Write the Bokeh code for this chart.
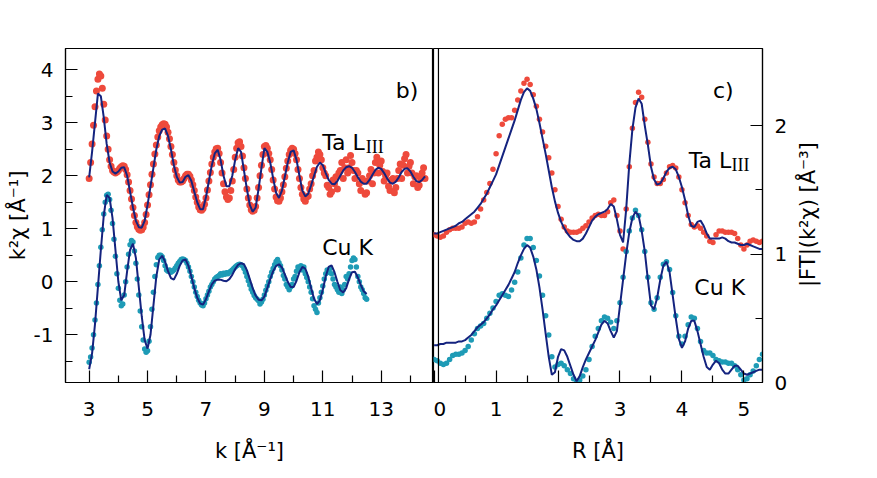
import numpy as np
from bokeh.plotting import figure
from bokeh.layouts import row
from bokeh.models import FixedTicker, Range1d, Label, Span
from bokeh.embed import file_html
from bokeh.resources import INLINE

# ---------------- data: k-space (panel b) ----------------
K_START = 3.0
TA_FIT_K_STEP = 0.1
ta_chi_fit = [
    1.97, 2.45, 3.00, 3.55, 3.50, 3.10, 2.60, 2.25, 2.08, 2.04,
    2.08, 2.15, 2.16, 2.00, 1.70, 1.40, 1.15, 1.03, 1.02, 1.15,
    1.45, 1.80, 2.15, 2.50, 2.75, 2.87, 2.89, 2.75, 2.50, 2.20,
    1.98, 1.87, 1.88, 1.98, 2.01, 1.90, 1.70, 1.50, 1.37, 1.37,
    1.60, 1.90, 2.20, 2.42, 2.49, 2.30, 2.00, 1.80, 1.80, 2.00,
    2.30, 2.52, 2.45, 2.10, 1.75, 1.45, 1.32, 1.40, 1.75, 2.15,
    2.52, 2.45, 2.25, 1.95, 1.68, 1.58, 1.72, 1.98, 2.25, 2.45,
    2.48, 2.30, 2.00, 1.72, 1.61, 1.66, 1.82, 2.00, 2.17, 2.25,
    2.20, 2.05, 1.92, 1.85, 1.84, 1.90, 2.00, 2.10, 2.16, 2.18,
    2.15, 2.07, 1.97, 1.89, 1.85, 1.85, 1.92, 2.02, 2.11, 2.15,
    2.13, 2.05, 1.95, 1.87, 1.85, 1.89, 1.97, 2.07, 2.13, 2.14,
    2.08, 1.98, 1.90, 1.88, 1.92, 1.99,
]
TA_DATA_K_STEP = 0.05
ta_chi_data = [
    1.95, 2.25, 2.60, 2.95, 3.30, 3.60, 3.82, 3.92, 3.88, 3.65,
    3.35, 3.05, 2.75, 2.50, 2.30, 2.18, 2.10, 2.07, 2.05, 2.07,
    2.10, 2.14, 2.17, 2.19, 2.18, 2.12, 2.02, 1.88, 1.72, 1.56,
    1.40, 1.25, 1.12, 1.04, 0.99, 0.97, 0.98, 1.03, 1.12, 1.27,
    1.45, 1.64, 1.83, 2.03, 2.22, 2.41, 2.58, 2.73, 2.85, 2.92,
    2.96, 2.98, 2.97, 2.92, 2.82, 2.70, 2.55, 2.40, 2.25, 2.11,
    2.00, 1.92, 1.88, 1.88, 1.90, 1.95, 2.00, 2.03, 2.03, 1.99,
    1.92, 1.83, 1.72, 1.60, 1.50, 1.41, 1.36, 1.35, 1.38, 1.46,
    1.58, 1.73, 1.90, 2.06, 2.22, 2.35, 2.45, 2.51, 2.52, 2.42,
    2.25, 2.05, 1.85, 1.70, 1.60, 1.55, 1.58, 1.72, 1.90, 2.12,
    2.35, 2.52, 2.62, 2.64, 2.55, 2.37, 2.15, 1.95, 1.75, 1.58,
    1.45, 1.36, 1.33, 1.35, 1.42, 1.58, 1.78, 2.00, 2.20, 2.40,
    2.55, 2.57, 2.52, 2.42, 2.30, 2.12, 1.92, 1.75, 1.60, 1.53,
    1.52, 1.58, 1.70, 1.83, 1.98, 2.14, 2.28, 2.40, 2.48, 2.52,
    2.50, 2.42, 2.30, 2.12, 1.95, 1.78, 1.65, 1.56, 1.52, 1.60,
    1.62, 1.75, 1.85, 2.00, 2.10, 2.28, 2.35, 2.45, 2.40, 2.30,
    2.15, 2.05, 2.00, 1.82, 1.78, 1.65, 1.70, 1.92, 1.85, 1.98,
    1.75, 2.05, 2.10, 2.25, 1.95, 2.15, 2.30, 2.05, 2.15, 2.38,
    2.25, 2.10, 1.95, 2.10, 2.05, 1.85, 1.72, 1.95, 1.90, 1.65,
    1.68, 1.90, 2.00, 2.12, 1.85, 2.05, 2.25, 2.35, 2.05, 2.20,
    2.28, 2.08, 1.90, 2.00, 2.05, 1.80, 1.72, 1.92, 1.95, 1.68,
    1.78, 1.95, 2.10, 2.22, 1.95, 2.20, 2.32, 2.40, 2.05, 2.18,
    2.25, 2.05, 1.85, 1.98, 2.00, 1.78, 1.82, 1.95, 2.05, 2.15,
    1.95,
]
CU_FIT_K_STEP = 0.1
cu_chi_fit = [
    -1.65, -1.35, -0.80, -0.10, 0.60, 1.25, 1.64, 1.58, 1.20, 0.60,
    0.00, -0.35, -0.25, 0.20, 0.60, 0.72, 0.45, -0.10, -0.65, -1.10,
    -1.26, -1.00, -0.45, 0.10, 0.42, 0.49, 0.38, 0.20, 0.07, 0.04,
    0.15, 0.30, 0.40, 0.42, 0.30, 0.10, -0.12, -0.30, -0.41, -0.43,
    -0.33, -0.18, -0.05, 0.02, 0.04, 0.04, 0.02, 0.01, 0.05, 0.13,
    0.24, 0.32, 0.35, 0.33, 0.22, 0.05, -0.12, -0.26, -0.34, -0.35,
    -0.28, -0.12, 0.05, 0.20, 0.30, 0.33, 0.27, 0.14, 0.00, -0.10,
    -0.10, 0.02, 0.18, 0.28, 0.25, 0.10, -0.12, -0.32, -0.42, -0.35,
    -0.15, 0.10, 0.28, 0.31, 0.18, 0.00, -0.16, -0.20, -0.12, 0.05,
    0.18, 0.19, 0.08, -0.06, -0.18, -0.23,
]
CU_DATA_K_STEP = 0.05
cu_chi_data = [
    -1.52, -1.42, -1.25, -1.00, -0.72, -0.40, -0.05, 0.30, 0.65, 0.98,
    1.28, 1.50, 1.63, 1.65, 1.55, 1.35, 1.10, 0.80, 0.48, 0.15,
    -0.12, -0.35, -0.45, -0.42, -0.25, 0.00, 0.28, 0.52, 0.70, 0.78,
    0.75, 0.58, 0.35, 0.05, -0.25, -0.55, -0.85, -1.10, -1.27, -1.33,
    -1.30, -1.12, -0.85, -0.52, -0.20, 0.10, 0.32, 0.46, 0.50, 0.50,
    0.47, 0.40, 0.30, 0.22, 0.20, 0.22, 0.18, 0.20, 0.22, 0.26,
    0.30, 0.35, 0.38, 0.42, 0.43, 0.42, 0.40, 0.35, 0.28, 0.20,
    0.10, 0.00, -0.10, -0.20, -0.28, -0.35, -0.40, -0.44, -0.45, -0.40,
    -0.32, -0.25, -0.18, -0.10, -0.05, 0.00, 0.05, 0.08, 0.10, 0.12,
    0.15, 0.13, 0.16, 0.14, 0.17, 0.15, 0.18, 0.20, 0.22, 0.25,
    0.28, 0.30, 0.32, 0.33, 0.32, 0.30, 0.25, 0.18, 0.10, 0.02,
    -0.06, -0.14, -0.20, -0.26, -0.30, -0.33, -0.36, -0.42, -0.38, -0.33,
    -0.25, -0.16, -0.08, 0.00, 0.10, 0.18, 0.25, 0.32, 0.38, 0.42,
    0.36, 0.30, 0.22, 0.12, 0.05, -0.05, -0.10, -0.15, -0.10, -0.05,
    0.05, 0.10, 0.20, 0.28, 0.25, 0.30, 0.22, 0.28, 0.15, 0.08,
    0.00, -0.10, -0.20, -0.32, -0.45, -0.52, -0.58, -0.40, -0.30, -0.20,
    -0.08, 0.05, 0.15, 0.22, 0.18, 0.25, 0.15, 0.05, -0.05, -0.10,
    -0.15, -0.20, -0.10, -0.22, -0.15, -0.05, 0.10, 0.05, 0.15, 0.28,
    0.40, 0.45, 0.42, 0.28, 0.10, 0.00, -0.10, -0.15, -0.22, -0.30,
    -0.33,
]

# ---------------- data: R-space (panel c) ----------------
R_START = 0.0
R_STEP = 0.05
ta_ft_data = [
    1.15, 1.14, 1.13, 1.14, 1.17, 1.19, 1.20, 1.20, 1.20, 1.21,
    1.24, 1.25, 1.24, 1.25, 1.29, 1.35, 1.42, 1.48, 1.55, 1.66,
    1.78, 1.92, 2.01, 2.05, 2.06, 2.06, 2.12, 2.20, 2.27, 2.33,
    2.36, 2.32, 2.24, 2.15, 2.05, 1.95, 1.84, 1.75, 1.63, 1.50,
    1.37, 1.27, 1.21, 1.18, 1.17, 1.17, 1.17, 1.18, 1.20, 1.22,
    1.25, 1.28, 1.30, 1.31, 1.30, 1.30, 1.33, 1.40, 1.42, 1.30,
    1.18, 1.04, 1.35, 1.68, 1.98, 2.18, 2.26, 2.22, 2.05, 1.87,
    1.70, 1.60, 1.55, 1.55, 1.58, 1.63, 1.68, 1.69, 1.67, 1.60,
    1.50, 1.40, 1.30, 1.23, 1.21, 1.22, 1.20, 1.17, 1.14, 1.10,
    1.09, 1.15, 1.18, 1.18, 1.17, 1.17, 1.17, 1.16, 1.12, 1.07,
    1.04, 1.07, 1.10, 1.11, 1.10, 1.09, 1.10,
]
ta_ft_fit = [
    1.16, 1.16, 1.17, 1.18, 1.19, 1.20, 1.21, 1.22, 1.24, 1.25,
    1.27, 1.29, 1.31, 1.33, 1.36, 1.39, 1.43, 1.47, 1.52, 1.57,
    1.62, 1.69, 1.76, 1.83, 1.90, 1.97, 2.04, 2.12, 2.20, 2.26,
    2.29, 2.27, 2.21, 2.13, 2.02, 1.90, 1.78, 1.65, 1.52, 1.41,
    1.32, 1.25, 1.20, 1.16, 1.13, 1.11, 1.10, 1.10, 1.12, 1.16,
    1.21, 1.26, 1.29, 1.31, 1.32, 1.33, 1.35, 1.39, 1.37, 1.27,
    1.15, 1.09, 1.35, 1.70, 1.97, 2.14, 2.21, 2.17, 2.00, 1.85,
    1.68, 1.58, 1.54, 1.55, 1.59, 1.64, 1.67, 1.68, 1.66, 1.60,
    1.52, 1.42, 1.30, 1.22, 1.21, 1.25, 1.26, 1.22, 1.16, 1.12,
    1.12, 1.12, 1.12, 1.13, 1.12, 1.10, 1.09, 1.09, 1.08, 1.07,
    1.07, 1.08, 1.07, 1.06, 1.05, 1.04, 1.04,
]
cu_ft_data = [
    0.18, 0.17, 0.15, 0.14, 0.15, 0.18, 0.21, 0.22, 0.22, 0.23,
    0.25, 0.28, 0.33, 0.38, 0.42, 0.44, 0.46, 0.50, 0.54, 0.58,
    0.63, 0.68, 0.69, 0.68, 0.67, 0.72, 0.78, 0.86, 0.97, 1.07,
    1.12, 1.12, 1.05, 0.95, 0.83, 0.68, 0.52, 0.37, 0.20, 0.12,
    0.14, 0.15, 0.13, 0.10, 0.07, 0.03, 0.00, 0.02, 0.05, 0.10,
    0.18, 0.28, 0.36, 0.42, 0.48, 0.51, 0.50, 0.47, 0.42, 0.48,
    0.62, 0.82, 1.02, 1.18, 1.28, 1.34, 1.30, 1.19, 1.02, 0.82,
    0.62, 0.57, 0.66, 0.82, 0.92, 0.94, 0.88, 0.70, 0.52, 0.36,
    0.30, 0.36, 0.45, 0.51, 0.50, 0.42, 0.32, 0.25, 0.23, 0.23,
    0.21, 0.18, 0.17, 0.16, 0.16, 0.15, 0.15, 0.13, 0.10, 0.06,
    0.02, 0.03, 0.06, 0.09, 0.13, 0.18, 0.22,
]
cu_ft_fit = [
    0.29, 0.29, 0.30, 0.30, 0.31, 0.31, 0.31, 0.31, 0.32, 0.32,
    0.33, 0.35, 0.37, 0.40, 0.43, 0.45, 0.47, 0.50, 0.53, 0.57,
    0.60, 0.64, 0.68, 0.72, 0.76, 0.81, 0.86, 0.93, 0.99, 1.04,
    1.07, 1.05, 0.98, 0.88, 0.74, 0.57, 0.38, 0.20, 0.06, 0.08,
    0.20, 0.26, 0.25, 0.20, 0.13, 0.06, 0.01, 0.05, 0.12, 0.18,
    0.23, 0.28, 0.33, 0.39, 0.45, 0.48, 0.46, 0.40, 0.35, 0.40,
    0.60, 0.80, 1.00, 1.17, 1.28, 1.33, 1.30, 1.18, 1.02, 0.80,
    0.60, 0.57, 0.66, 0.80, 0.91, 0.94, 0.86, 0.68, 0.50, 0.34,
    0.27, 0.32, 0.42, 0.48, 0.48, 0.40, 0.30, 0.20, 0.12, 0.10,
    0.14, 0.17, 0.15, 0.10, 0.07, 0.07, 0.10, 0.13, 0.13, 0.10,
    0.07, 0.06, 0.07, 0.08, 0.09, 0.10, 0.10,
]

k_ticks = [3, 5, 7, 9, 11, 13]
k_minor = [4, 6, 8, 10, 12, 14]
chi_ticks = [-1, 0, 1, 2, 3, 4]
chi_minor = [-1.5, -0.5, 0.5, 1.5, 2.5, 3.5]
r_ticks = [0, 1, 2, 3, 4, 5]
r_minor = [0.5, 1.5, 2.5, 3.5, 4.5]
ft_ticks = [0, 1, 2]
ft_minor = [0.5, 1.5]

RED = "#EE4A3C"
TEAL = "#1E9BB6"
NAVY = "#14237F"
FONT = "DejaVu Sans"
TOP, FRAME_H, BOTTOM = 48, 334, 90


def grid(start, step, n):
    return np.round(start + step * np.arange(n), 4)


def style_axis(ax, ticks, minor):
    ax.ticker = FixedTicker(ticks=ticks, minor_ticks=minor)
    ax.major_label_overrides = {t: str(t) for t in ticks}
    ax.axis_line_color = "black"
    ax.axis_line_width = 1.2
    ax.major_tick_in = 12
    ax.major_tick_out = 0
    ax.minor_tick_in = 7
    ax.minor_tick_out = 0
    ax.major_tick_line_color = "black"
    ax.minor_tick_line_color = "black"
    ax.major_tick_line_width = 1.2
    ax.minor_tick_line_width = 1.2
    ax.major_label_text_font = FONT
    ax.major_label_text_font_size = "20px"
    ax.major_label_text_color = "black"
    ax.axis_label_text_font = FONT
    ax.axis_label_text_font_style = "normal"
    ax.axis_label_text_font_size = "21px"
    ax.axis_label_text_color = "black"


def style_fig(p):
    p.grid.visible = False
    p.outline_line_color = "black"
    p.outline_line_width = 1.2
    p.outline_line_alpha = 1.0
    p.background_fill_color = "white"
    p.border_fill_color = "white"


# ---------------- panel b ----------------
p1 = figure(frame_width=368, frame_height=FRAME_H,
            x_range=Range1d(2.19, 14.79), y_range=Range1d(-1.90, 4.40),
            output_backend="svg", toolbar_location=None,
            min_border_left=65, min_border_right=0, min_border_top=TOP, min_border_bottom=BOTTOM)
style_fig(p1)
style_axis(p1.xaxis[0], k_ticks, k_minor)
style_axis(p1.yaxis[0], chi_ticks, chi_minor)
p1.xaxis[0].major_label_standoff = 19
p1.xaxis[0].axis_label = "k [Å⁻¹]"
p1.xaxis[0].axis_label_standoff = 20
p1.yaxis[0].major_label_standoff = 12
p1.yaxis[0].axis_label = "k²χ [Å⁻¹]"
p1.yaxis[0].axis_label_standoff = 1

k_ta = grid(K_START, TA_DATA_K_STEP, len(ta_chi_data))
k_ta_fit = grid(K_START, TA_FIT_K_STEP, len(ta_chi_fit))
k_cu = grid(K_START, CU_DATA_K_STEP, len(cu_chi_data))
k_cu_fit = grid(K_START, CU_FIT_K_STEP, len(cu_chi_fit))

p1.scatter(k_ta, ta_chi_data, size=7, fill_color=RED, line_color=None)
p1.line(k_ta_fit, ta_chi_fit, line_color=NAVY, line_width=2)
p1.scatter(k_cu, cu_chi_data, size=5.5, fill_color=TEAL, line_color=None)
p1.line(k_cu_fit, cu_chi_fit, line_color=NAVY, line_width=2)

p1.add_layout(Label(x=13.50, y=3.61, text="b)", text_font=FONT, text_font_size="22px",
                    text_color="black", text_baseline="alphabetic"))
p1.add_layout(Label(x=10.98, y=2.63, text="Ta L", text_font=FONT, text_font_size="22px",
                    text_color="black", text_baseline="alphabetic"))
p1.add_layout(Label(x=12.47, y=2.54, text="III", text_font="Liberation Serif", text_font_size="18px",
                    text_color="black", text_baseline="alphabetic"))
p1.add_layout(Label(x=10.98, y=0.64, text="Cu K", text_font=FONT, text_font_size="22px",
                    text_color="black", text_baseline="alphabetic"))

# ---------------- panel c ----------------
p2 = figure(frame_width=329, frame_height=FRAME_H,
            x_range=Range1d(-0.01, 5.30), y_range=Range1d(0.0, 2.60),
            output_backend="svg", toolbar_location=None, y_axis_location="right",
            min_border_left=0, min_border_right=30, min_border_top=TOP, min_border_bottom=BOTTOM)
style_fig(p2)
style_axis(p2.xaxis[0], r_ticks, r_minor)
style_axis(p2.yaxis[0], ft_ticks, ft_minor)
p2.xaxis[0].major_label_standoff = 19
p2.xaxis[0].axis_label = "R [Å]"
p2.xaxis[0].axis_label_standoff = 20
p2.yaxis[0].major_label_standoff = 12

r = grid(R_START, R_STEP, len(ta_ft_data))
p2.add_layout(Span(location=0.07, dimension="height", line_color="black", line_width=1.2))
p2.scatter(r, ta_ft_data, size=5.5, fill_color=RED, line_color=None)
p2.line(r, ta_ft_fit, line_color=NAVY, line_width=2)
p2.scatter(r, cu_ft_data, size=5.5, fill_color=TEAL, line_color=None)
p2.line(r, cu_ft_fit, line_color=NAVY, line_width=2)

p2.add_layout(Label(x=4.50, y=2.27, text="c)", text_font=FONT, text_font_size="22px",
                    text_color="black", text_baseline="alphabetic"))
p2.add_layout(Label(x=4.11, y=1.73, text="Ta L", text_font=FONT, text_font_size="22px",
                    text_color="black", text_baseline="alphabetic"))
p2.add_layout(Label(x=4.80, y=1.69, text="III", text_font="Liberation Serif", text_font_size="18px",
                    text_color="black", text_baseline="alphabetic"))
p2.add_layout(Label(x=4.20, y=0.736, text="Cu K", text_font=FONT, text_font_size="22px",
                    text_color="black", text_baseline="alphabetic"))

# ---------------- right-hand axis title strip ----------------
p3 = figure(frame_width=40, frame_height=FRAME_H, x_range=Range1d(0, 1), y_range=p2.y_range,
            output_backend="svg", toolbar_location=None, x_axis_type=None, y_axis_type=None,
            min_border_left=0, min_border_right=0, min_border_top=TOP, min_border_bottom=BOTTOM)
p3.grid.visible = False
p3.outline_line_color = None
p3.add_layout(Label(x=0.38, y=1.307, text="|FT|(k²χ) [Å⁻³]", angle=np.pi / 2,
                    text_font=FONT, text_font_size="21px", text_color="black",
                    text_align="center", text_baseline="middle"))

layout = row(p1, p2, p3)
open("out.html", "w").write(file_html(layout, INLINE))
